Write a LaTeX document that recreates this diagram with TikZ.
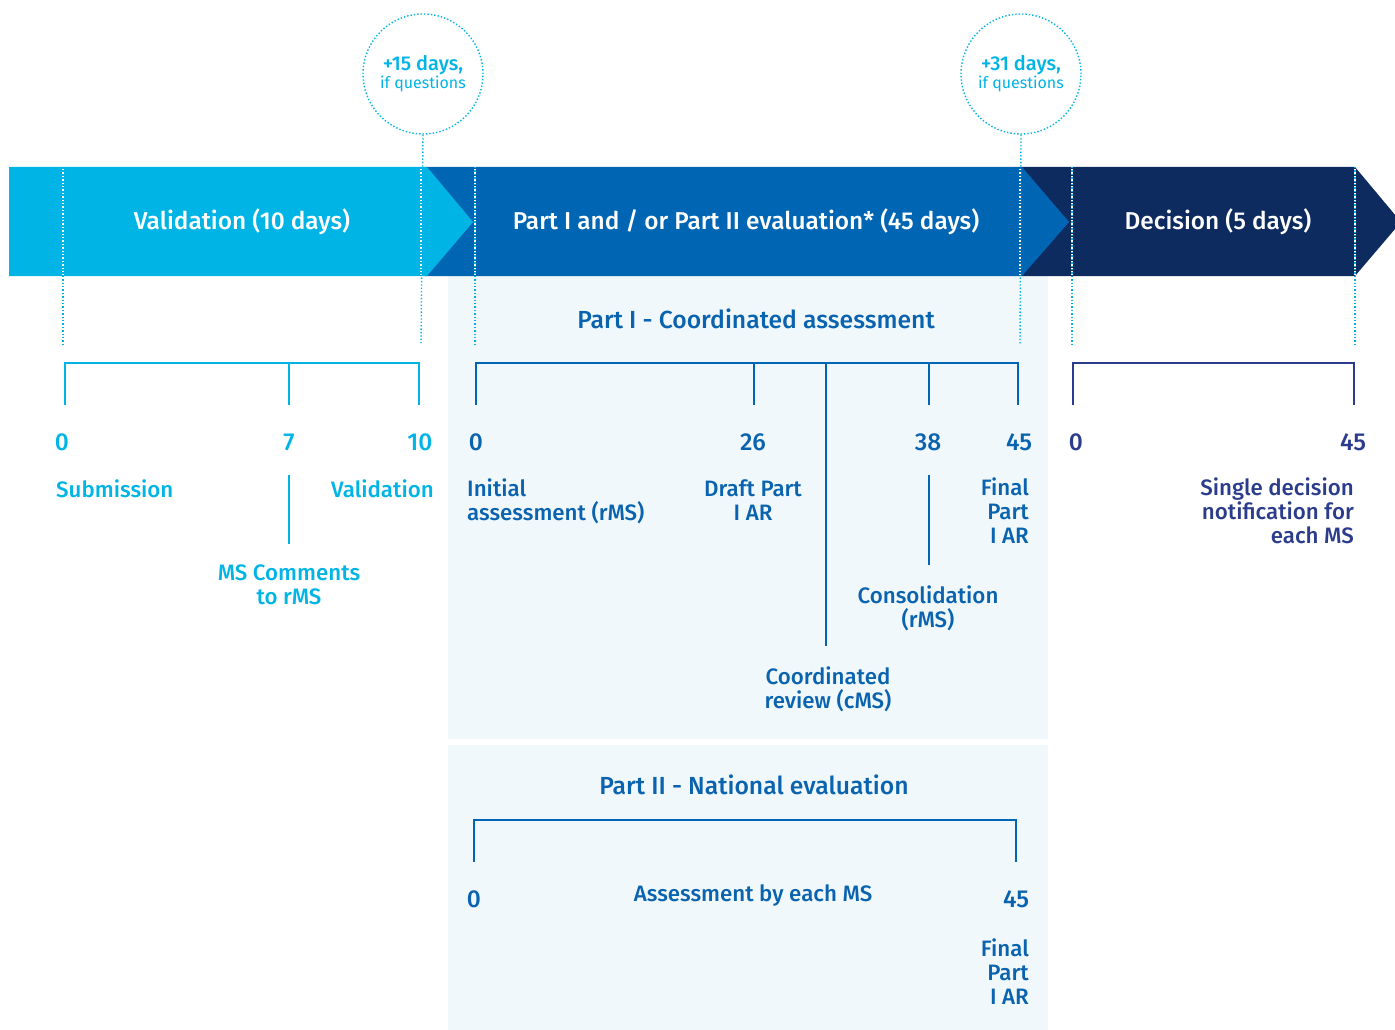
\documentclass[tikz,border=0pt]{standalone}
\usepackage{fontspec}
\setmainfont{Fira Sans}[BoldFont={Fira Sans Medium}]
\usetikzlibrary{positioning}
\definecolor{cyanband}{HTML}{00B4E6}
\definecolor{midblue}{HTML}{0066B3}
\definecolor{navyband}{HTML}{0E2B60}
\definecolor{panelbg}{HTML}{F0F8FC}
\definecolor{decblue}{HTML}{2B3C8C}
\definecolor{textblue}{HTML}{0A63AE}

\begin{document}
\begin{tikzpicture}[x=1pt, y=-1pt,
    lbl/.style={inner sep=0pt, font=\bfseries\fontsize{22.3}{24}\selectfont},
    num/.style={lbl, font=\bfseries\fontsize{24.5}{24}\selectfont},
    head/.style={lbl, font=\bfseries\fontsize{24.7}{26}\selectfont},
    bandtxt/.style={inner sep=0pt, text=white, font=\bfseries\fontsize{24.4}{26}\selectfont},
    tickline/.style={line width=2.6pt},
    guide/.style={dotted, line width=1.4pt, draw=cyanband},
    bubble/.style={circle, draw=cyanband, dotted, line width=1.4pt, minimum size=120pt, inner sep=0pt, align=center, text=cyanband}]
    \useasboundingbox (0,0) rectangle (1395,1030);

    % panels behind part I and part II
    \fill[panelbg] (448,276) rectangle (1048,739);
    \fill[panelbg] (448,745) rectangle (1048,1030);

    % phase band
    \fill[navyband] (1022,167) -- (1355,167) -- (1401,222) -- (1355,276) -- (1022,276) -- cycle;
    \fill[midblue] (425,167) -- (1022,167) -- (1069,222) -- (1022,276) -- (425,276) -- cycle;
    \fill[cyanband] (9,167) -- (427,167) -- (473,222) -- (427,276) -- (9,276) -- cycle;

    \node[bandtxt] (valband) at (242,222) {Validation (10 days)};
    \node[bandtxt] (evalband) at (746,222) {Part I and / or Part II evaluation* (45 days)};
    \node[bandtxt] (decband) at (1218,222) {Decision (5 days)};

    % extra time bubbles
    \node[bubble] (q15) at (423,74) {{\bfseries\fontsize{20}{22}\selectfont +15 days,}\\{\fontsize{16}{19}\selectfont if questions}};
    \node[bubble] (q31) at (1021,74) {{\bfseries\fontsize{20}{22}\selectfont +31 days,}\\{\fontsize{16}{19}\selectfont if questions}};

    % guide lines
    \coordinate (g0) at (63,345);
    \coordinate (g15) at (421,345);
    \coordinate (g45) at (475,345);
    \coordinate (g31) at (1020,345);
    \coordinate (g50) at (1072,345);
    \coordinate (g55) at (1355,345);
    \draw[guide] (q15.south) -- (g15);
    \draw[guide] (q31.south) -- (g31);
    \foreach \g in {g0,g45,g50,g55}
        \draw[guide] (\g |- 0,167) -- (\g);
    \foreach \g in {g0,g15,g45,g31,g50,g55}
        \draw[guide, draw=white] (\g |- 0,169) -- (\g |- 0,275);

    % validation
    \coordinate (v0) at (65,363);
    \coordinate (v7) at (289,363);
    \coordinate (v10) at (419,363);
    \draw[tickline, cyanband] (v0 |- 0,405) -- (v0) -- (v10) -- (v10 |- 0,405);
    \draw[tickline, cyanband] (v7) -- (v7 |- 0,405);
    \node[num, text=cyanband, anchor=base] (n0) at (62,450) {0};
    \node[num, text=cyanband, anchor=base] (n7) at (289,450) {7};
    \node[num, text=cyanband, anchor=base] (n10) at (420,450) {10};
    \node[lbl, text=cyanband, anchor=base west] (sub) at (56,497) {Submission};
    \node[lbl, text=cyanband, anchor=base east] (val) at (434,497) {Validation};
    \node[lbl, text=cyanband, align=center, anchor=north] (msc) at (289,565) {MS Comments\\to rMS};
    \path (msc.north) ++(0,-21) coordinate (msctop);
    \draw[tickline, cyanband] (v7 |- 0,475) -- (v7 |- msctop);

    % part I
    \node[head, text=textblue, anchor=base] (p1) at (756,328) {Part I - Coordinated assessment};
    \coordinate (a0) at (476,363);
    \coordinate (a26) at (754,363);
    \coordinate (acr) at (826,363);
    \coordinate (a38) at (929,363);
    \coordinate (a45) at (1018,363);
    \draw[tickline, midblue] (a0 |- 0,405) -- (a0) -- (a45) -- (a45 |- 0,405);
    \foreach \a in {a26,a38}
        \draw[tickline, midblue] (\a) -- (\a |- 0,405);
    \node[num, text=textblue, anchor=base] (m0) at (476,450) {0};
    \node[num, text=textblue, anchor=base] (m26) at (753,450) {26};
    \node[num, text=textblue, anchor=base] (m38) at (928,450) {38};
    \node[num, text=textblue, anchor=base] (m45) at (1019,450) {45};
    \node[lbl, text=textblue, align=left, anchor=north west] (init) at (467,479) {Initial\\assessment (rMS)};
    \node[lbl, text=textblue, align=center, anchor=north] (draft) at (753,479) {Draft Part\\I AR};
    \node[lbl, text=textblue, align=right, anchor=north east] (final1) at (1029,478) {Final\\Part\\I AR};
    \node[lbl, text=textblue, align=center, anchor=north] (cons) at (928,586) {Consolidation\\(rMS)};
    \node[lbl, text=textblue, align=center, anchor=north] (crev) at (828,667) {Coordinated\\review (cMS)};
    \path (cons.north) ++(0,-21) coordinate (constop);
    \path (crev.north) ++(0,-21) coordinate (crevtop);
    \draw[tickline, midblue] (a38 |- 0,475) -- (a38 |- constop);
    \draw[tickline, midblue] (acr) -- (acr |- crevtop);

    % decision
    \coordinate (d0) at (1073,363);
    \coordinate (d45) at (1354,363);
    \draw[tickline, decblue] (d0 |- 0,405) -- (d0) -- (d45) -- (d45 |- 0,405);
    \node[num, text=decblue, anchor=base] (k0) at (1076,450) {0};
    \node[num, text=decblue, anchor=base] (k45) at (1353,450) {45};
    \node[lbl, text=decblue, align=right, anchor=north east] (single) at (1354,478) {Single decision\\notification for\\each MS};

    % part II
    \node[head, text=textblue, anchor=base] (p2) at (754,794) {Part II - National evaluation};
    \coordinate (b0) at (474,820);
    \coordinate (b45) at (1016,820);
    \draw[tickline, midblue] (b0 |- 0,862) -- (b0) -- (b45) -- (b45 |- 0,862);
    \node[num, text=textblue, anchor=base] (r0) at (474,907) {0};
    \node[lbl, text=textblue, anchor=base] (abm) at (753,901) {Assessment by each MS};
    \node[num, text=textblue, anchor=base] (r45) at (1016,907) {45};
    \node[lbl, text=textblue, align=right, anchor=north east] (final2) at (1029,939) {Final\\Part\\I AR};
\end{tikzpicture}
\end{document}
